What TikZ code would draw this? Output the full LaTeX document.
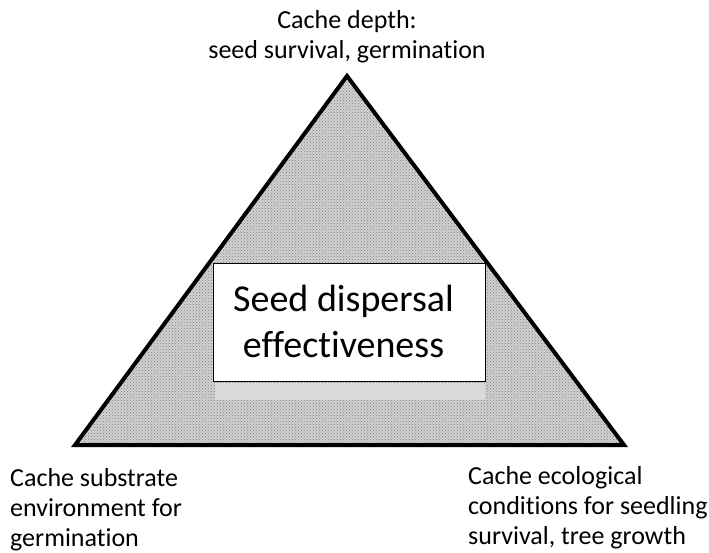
\documentclass[tikz,border=0pt]{standalone}
\usepackage{fontspec}
\setmainfont{Carlito}[Ligatures=NoCommon]
\usetikzlibrary{patterns}
\begin{document}
\begin{tikzpicture}[x=1pt,y=-1pt,label/.style={font=\fontsize{26}{30}\selectfont,inner sep=0pt,align=left}]
        \useasboundingbox (0,0) rectangle (709,552);
        \coordinate (top) at (347,76);\coordinate (bl) at (75,445);\coordinate (br) at (624,445);
        \fill[black!18] (top)--(bl)--(br)--cycle;
        \fill[pattern=crosshatch dots,pattern color=black!50] (top)--(bl)--(br)--cycle;
        \fill[black!15] (215,383) rectangle (485,400);
        \draw[line width=4pt,line join=miter](top)--(bl)--(br)--cycle;
        \node[draw,line width=1.5pt,fill=white,minimum width=272,minimum height=118,inner sep=0pt](sde) at (349.5,322.5){};
        \node[inner sep=0pt,font=\fontsize{38}{46}\selectfont,align=center](sdetext) at ([xshift=-6pt,yshift=1pt]sde.center){Seed dispersal\\effectiveness};
        \node[label,align=center,anchor=north](depth) at (347,10.5){Cache depth:\\seed survival, germination};
        \node[label,anchor=north west](substrate) at (10,468){Cache substrate\\environment for\\germination};
        \node[label,anchor=north west](ecol) at (468,466){Cache ecological\\conditions for seedling\\survival, tree growth};
    \end{tikzpicture}
\end{document}
